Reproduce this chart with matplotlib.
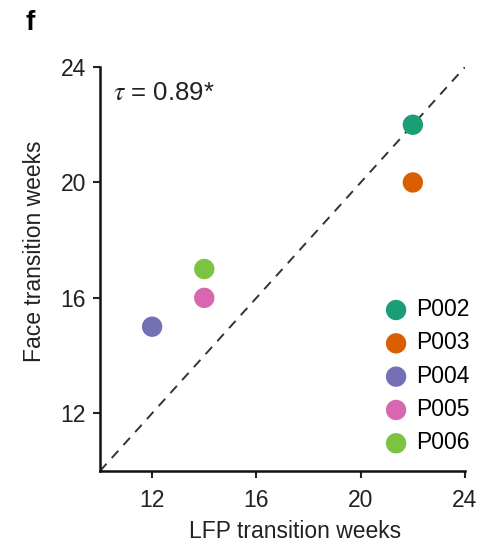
import matplotlib
matplotlib.use("Agg")
import matplotlib.pyplot as plt

plt.rcParams['font.family'] = ['Liberation Sans', 'DejaVu Sans']
plt.rcParams['mathtext.fontset'] = 'stix'

patients = ["P002", "P003", "P004", "P005", "P006"]
lfp_weeks = [22, 22, 12, 14, 14]
face_weeks = [22, 20, 15, 16, 17]
colors = ["#1b9e77", "#d95f02", "#7570b3", "#d767b0", "#7cc243"]
ticks = [12, 16, 20, 24]

fig = plt.figure(figsize=(4.87, 5.45), dpi=100)
ax = fig.add_axes([0.2053, 0.1358, 0.7495, 0.7412])

ax.plot([10, 24], [10, 24], linestyle=(0, (5, 4)), color="#333333", lw=1.4, zorder=1)
for x, y, c, p in zip(lfp_weeks, face_weeks, colors, patients):
    ax.scatter([x], [y], s=215, color=c, edgecolors='none', zorder=3, label=p)

ax.set_xlim(10, 24)
ax.set_ylim(10, 24)
ax.set_xticks(ticks)
ax.set_yticks(ticks)
ax.tick_params(direction='out', length=5, width=1.5, labelsize=16.5, pad=5, colors='#222222')
ax.tick_params(axis='x', pad=8)
for s in ['top', 'right']:
    ax.spines[s].set_visible(False)
for s in ['left', 'bottom']:
    ax.spines[s].set_linewidth(1.8)
    ax.spines[s].set_color('#111111')

ax.set_xlabel("LFP transition weeks", fontsize=16.5, color='#222222')
ax.set_ylabel("Face transition weeks", fontsize=16.5, color='#222222')
ax.xaxis.set_label_coords(0.534, -0.121)
ax.yaxis.set_label_coords(-0.148, 0.545)

ax.text(10.5, 22.86, r"$\tau$ = 0.89*", fontsize=18.5, color='#222222', va='baseline')

leg = ax.legend(loc='lower right', frameon=False, fontsize=16.5, handlelength=1.2,
                handletextpad=0.27, labelspacing=0.45, borderaxespad=0.0, borderpad=0.2,
                bbox_to_anchor=(1.025, 0.03))

fig.text(0.062, 0.958, "f", fontsize=20, fontweight='bold', va='center', ha='center')

fig.savefig("out.png", dpi=100)
